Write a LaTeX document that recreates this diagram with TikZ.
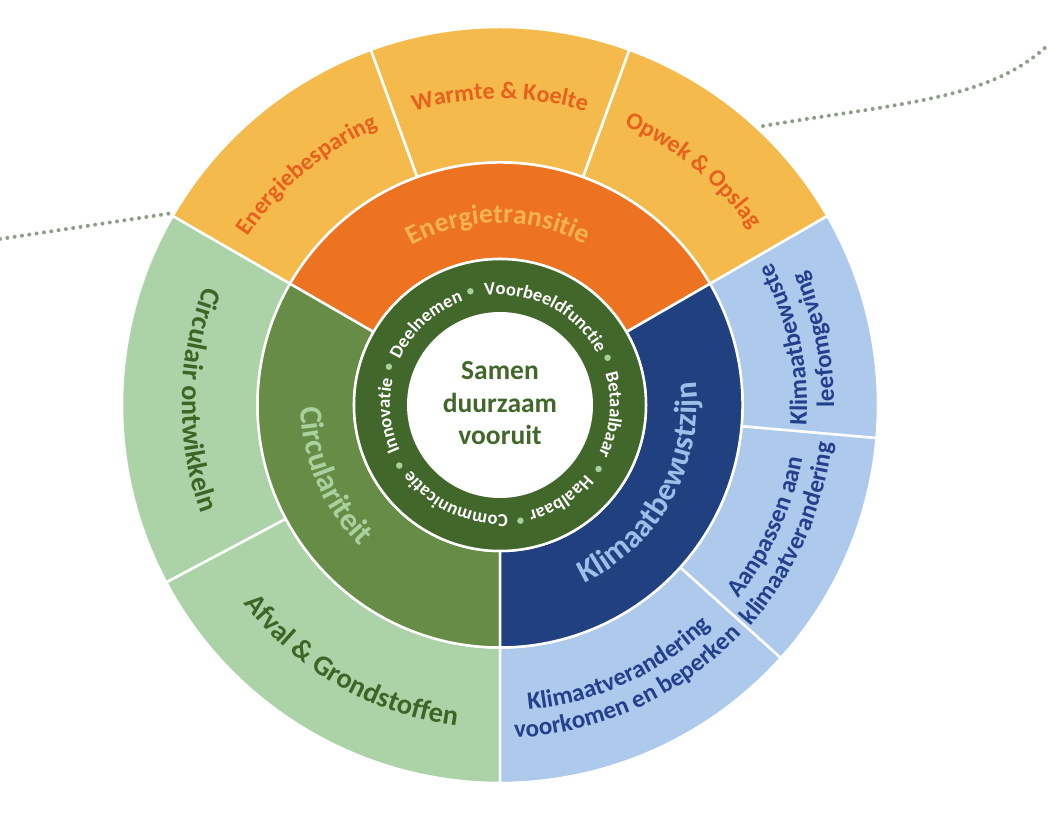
\documentclass[tikz,border=0pt]{standalone}
\usepackage{fontspec}
\setmainfont{Carlito}
\usetikzlibrary{decorations.text}

\definecolor{eLight}{HTML}{F4BB4C}
\definecolor{eText}{HTML}{E8601C}
\definecolor{eMid}{HTML}{EE7320}
\definecolor{eMidText}{HTML}{F6B350}
\definecolor{cMid}{HTML}{678C45}
\definecolor{cMidText}{HTML}{A8D19E}
\definecolor{cLight}{HTML}{ACD2A8}
\definecolor{cText}{HTML}{3D6526}
\definecolor{kMid}{HTML}{21407F}
\definecolor{kMidText}{HTML}{9CBEE8}
\definecolor{kLight}{HTML}{ADC9EC}
\definecolor{kText}{HTML}{23408C}
\definecolor{ringGreen}{HTML}{41672A}
\definecolor{ringDot}{HTML}{A6D09C}
\definecolor{dotCol}{HTML}{8E9E8A}

\newcommand\fb[1]{\fontsize{#1}{#1}\selectfont\bfseries}

% annular sector: fill, a1, a2, r1, r2
\newcommand\wheelsector[5]{%
  \path[sectorstyle, fill=#1] (#2:#4) arc[start angle=#2, end angle=#3, radius=#4]
    -- (#3:#5) arc[start angle=#3, end angle=#2, radius=#5] -- cycle;}
% clockwise text (tops outward): angle, radius, font, colour, text
\newcommand\cwtext[5]{%
  \path[decorate, decoration={text along path, text align=center, text={|#3\color{#4}|#5}}]
    ({#1+80}:#2) arc[start angle={#1+80}, end angle={#1-80}, radius=#2];}
% counter-clockwise text (tops inward)
\newcommand\ccwtext[5]{%
  \path[decorate, decoration={text along path, text align=center, text={|#3\color{#4}|#5}}]
    ({#1-80}:#2) arc[start angle={#1-80}, end angle={#1+80}, radius=#2];}

\tikzset{
  sectorstyle/.style={draw=white, line width=2.5pt, line join=round},
  dottrail/.style={draw=dotCol, line width=4pt, line cap=round, dash pattern=on 0pt off 7.4pt},
  ringdot/.style={circle, fill=ringDot, inner sep=0pt, minimum size=6.5pt},
  centertext/.style={font=\fb{27.5}, text=ringGreen, anchor=base, inner sep=0pt}
}

\begin{document}
\begin{tikzpicture}[x=1pt, y=1pt]
\useasboundingbox (-500,-408) rectangle (548,405);

% dotted trails behind the wheel
\coordinate (tl1) at (-500,166);
\coordinate (tl2) at (-327,192);
\coordinate (tr1) at (263,279);
\coordinate (tr2) at (548,360);
\draw[dottrail] (tl1) -- (tl2);
\draw[dottrail] (tr1) .. controls (400,302) and (490,305) .. (tr2);

% outer ring
\wheelsector{eLight}{30}{70}{242.5}{378}
\wheelsector{eLight}{70}{110}{242.5}{378}
\wheelsector{eLight}{110}{150}{242.5}{378}
\wheelsector{cLight}{150}{208}{242.5}{378}
\wheelsector{cLight}{208}{270}{242.5}{378}
\wheelsector{kLight}{270}{318}{242.5}{378}
\wheelsector{kLight}{318}{355}{242.5}{378}
\wheelsector{kLight}{355}{390}{242.5}{378}

% middle ring
\wheelsector{eMid}{30}{150}{146}{242.5}
\wheelsector{cMid}{150}{270}{146}{242.5}
\wheelsector{kMid}{270}{390}{146}{242.5}

% inner ring
\path[sectorstyle, fill=ringGreen] (0,0) circle[radius=146];
\path[fill=white] (0,0) circle[radius=93];

% ring dots
\foreach \a [count=\i] in {104.6,23.7,-33,-80,-149,161}
  \node[ringdot] (rd\i) at (\a:117.5) {};

% ring words
\cwtext{63}{110}{\fb{18.5}}{white}{Voorbeeldfunctie}
\cwtext{-5}{110}{\fb{18.5}}{white}{Betaalbaar}
\cwtext{-57}{110}{\fb{18.5}}{white}{Haalbaar}
\cwtext{-115}{110}{\fb{18.5}}{white}{Communicatie}
\cwtext{185.5}{110}{\fb{18.5}}{white}{Innovatie}
\cwtext{132.5}{110}{\fb{18.5}}{white}{Deelnemen}

% centre
\node[centertext] (c1) at (0,25) {Samen};
\node[centertext] (c2) at (0,-8) {duurzaam};
\node[centertext] (c3) at (0,-40) {vooruit};

% middle ring labels
\cwtext{90.5}{182}{\fb{27.5}}{eMidText}{Energietransitie}
\ccwtext{203}{199}{\fb{32}}{cMidText}{Circulariteit}
\ccwtext{331}{197}{\fb{32}}{kMidText}{Klimaatbewustzijn}

% outer ring labels
\cwtext{130}{303}{\fb{24}}{eText}{Energiebesparing}
\cwtext{90}{306}{\fb{24}}{eText}{Warmte {\&} Koelte}
\cwtext{50.5}{306}{\fb{24}}{eText}{Opwek {\&} Opslag}
\ccwtext{179}{318}{\fb{28}}{cText}{Circulair ontwikkeln}
\ccwtext{240}{324}{\fb{28.5}}{cText}{Afval {\&} Grondstoffen}
\ccwtext{294.5}{306}{\fb{25}}{kText}{Klimaatverandering}
\ccwtext{294.5}{333}{\fb{25}}{kText}{voorkomen en beperken}
\ccwtext{335.5}{307}{\fb{25}}{kText}{Aanpassen aan}
\ccwtext{336}{334}{\fb{25}}{kText}{klimaatverandering}
\ccwtext{12}{307}{\fb{25}}{kText}{Klimaatbewuste}
\ccwtext{11.7}{334}{\fb{25}}{kText}{leefomgeving}
\end{tikzpicture}
\end{document}
